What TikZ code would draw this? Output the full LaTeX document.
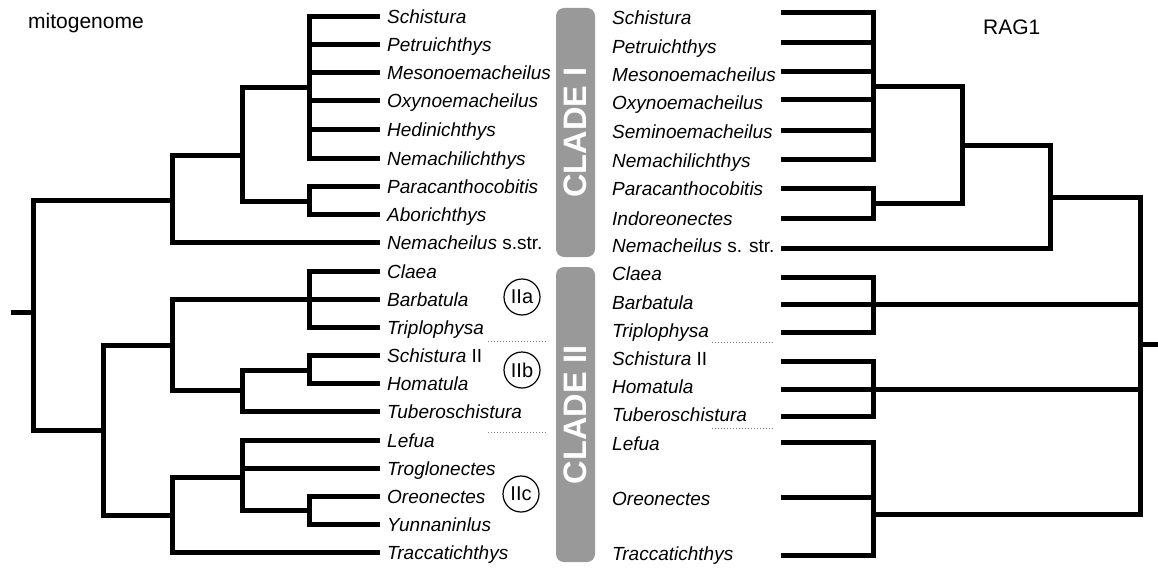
\documentclass[tikz,border=0pt]{standalone}
\usepackage{fontspec}
\setmainfont{Liberation Sans}
\usepackage{tikz}
\usepackage{xcolor}
\definecolor{cladegray}{RGB}{153,153,153}
\tikzset{
  br/.style={line width=5pt},
  taxon/.style={anchor=west, inner xsep=7pt, inner ysep=0pt, text height=14pt, text depth=0pt, font=\fontsize{19}{22}\selectfont},
  cladebar/.style={fill=cladegray, rounded corners=8pt, rotate=90, text=white, minimum height=39pt, inner sep=0pt, font=\fontsize{32.5}{33}\selectfont\bfseries},
  subclade/.style={draw, circle, line width=1.2pt, minimum size=36pt, inner sep=0pt, font=\fontsize{20}{20}\selectfont},
  gapline/.style={dotted, gray, line width=1pt},
  title/.style={anchor=west, inner sep=0pt, font=\fontsize{21}{21}\selectfont}
}

\begin{document}
\begin{tikzpicture}[x=1pt,y=-1pt]
  \useasboundingbox (0,0) rectangle (1158,567);
  \node[title] (mito) at (28,23) {mitogenome}; \node[title] (rag) at (983,27) {RAG1};
  \node[cladebar, minimum width=249pt] (cladeI) at (575.5,132.5) {CLADE I};
  \node[cladebar, minimum width=295pt] (cladeII) at (575.5,414.5) {CLADE II};
  \node[subclade] (IIa) at (522,297) {IIa}; \node[subclade] (IIb) at (522,370) {IIb}; \node[subclade] (IIc) at (521,494) {IIc};
  \coordinate (d1) at (488,341); \coordinate (d2) at (547,341); \coordinate (d3) at (488,432); \coordinate (d4) at (547,432);
  \coordinate (e1) at (712,342); \coordinate (e2) at (773,342); \coordinate (e3) at (712,428); \coordinate (e4) at (773,428);
  \draw[gapline] (d1) -- (d2) (d3) -- (d4) (e1) -- (e2) (e3) -- (e4);

  \node[taxon] (mt1) at (380,17) {\textit{Schistura}}; \node[taxon] (mt2) at (380,45) {\textit{Petruichthys}};
  \node[taxon] (mt3) at (380,73) {\textit{Mesonoemacheilus}}; \node[taxon] (mt4) at (380,101) {\textit{Oxynoemacheilus}};
  \node[taxon] (mt5) at (380,129) {\textit{Hedinichthys}}; \node[taxon] (mt6) at (380,158) {\textit{Nemachilichthys}};
  \node[taxon] (mt7) at (380,186) {\textit{Paracanthocobitis}}; \node[taxon] (mt8) at (380,214) {\textit{Aborichthys}};
  \node[taxon] (mt9) at (380,242) {\textit{Nemacheilus} s.str.}; \node[taxon] (mt10) at (380,271) {\textit{Claea}};
  \node[taxon] (mt11) at (380,299) {\textit{Barbatula}}; \node[taxon] (mt12) at (380,327) {\textit{Triplophysa}};
  \node[taxon] (mt13) at (380,355) {\textit{Schistura} II}; \node[taxon] (mt14) at (380,383) {\textit{Homatula}};
  \node[taxon] (mt15) at (380,411) {\textit{Tuberoschistura}}; \node[taxon] (mt16) at (380,440) {\textit{Lefua}};
  \node[taxon] (mt17) at (380,468) {\textit{Troglonectes}}; \node[taxon] (mt18) at (380,496) {\textit{Oreonectes}};
  \node[taxon] (mt19) at (380,524) {\textit{Yunnaninlus}}; \node[taxon] (mt20) at (380,552) {\textit{Traccatichthys}};

  \node[taxon] (rt1) at (605,18) {\textit{Schistura}}; \node[taxon] (rt2) at (605,47) {\textit{Petruichthys}};
  \node[taxon] (rt3) at (605,75) {\textit{Mesonoemacheilus}}; \node[taxon] (rt4) at (605,103) {\textit{Oxynoemacheilus}};
  \node[taxon] (rt5) at (605,132) {\textit{Seminoemacheilus}}; \node[taxon] (rt6) at (605,160) {\textit{Nemachilichthys}};
  \node[taxon] (rt7) at (605,188) {\textit{Paracanthocobitis}}; \node[taxon] (rt8) at (605,218) {\textit{Indoreonectes}};
  \node[taxon] (rt9) at (605,245) {\textit{Nemacheilus} s. str.}; \node[taxon] (rt10) at (605,273) {\textit{Claea}};
  \node[taxon] (rt11) at (605,302) {\textit{Barbatula}}; \node[taxon] (rt12) at (605,330) {\textit{Triplophysa}};
  \node[taxon] (rt13) at (605,358) {\textit{Schistura} II}; \node[taxon] (rt14) at (605,386) {\textit{Homatula}};
  \node[taxon] (rt15) at (605,414) {\textit{Tuberoschistura}}; \node[taxon] (rt16) at (605,443) {\textit{Lefua}};
  \node[taxon] (rt17) at (605,498) {\textit{Oreonectes}}; \node[taxon] (rt18) at (605,553) {\textit{Traccatichthys}};

  \coordinate (mA) at (309,88); \coordinate (mB) at (309,201); \coordinate (mC) at (242,155); \coordinate (mD) at (172,200);
  \coordinate (mE) at (309,299); \coordinate (mF) at (309,370); \coordinate (mG) at (242,390); \coordinate (mH) at (172,345);
  \coordinate (mI) at (309,510); \coordinate (mJ) at (242,477); \coordinate (mK) at (172,515); \coordinate (mL) at (103,430);
  \coordinate (mroot) at (33,312); \coordinate (mstub) at (11,312);
  \draw[br] (mt1.west) -| (mA) (mt2.west) -| (mA) (mt3.west) -| (mA) (mt4.west) -| (mA) (mt5.west) -| (mA) (mt6.west) -| (mA);
  \draw[br] (mt7.west) -| (mB) (mt8.west) -| (mB) (mA) -| (mC) (mB) -| (mC) (mC) -| (mD) (mt9.west) -| (mD) (mD) -| (mroot);
  \draw[br] (mt10.west) -| (mE) (mt11.west) -| (mE) (mt12.west) -| (mE) (mt13.west) -| (mF) (mt14.west) -| (mF);
  \draw[br] (mF) -| (mG) (mt15.west) -| (mG) (mE) -| (mH) (mG) -| (mH) (mH) -| (mL);
  \draw[br] (mt16.west) -| (mJ) (mt17.west) -| (mJ) (mt18.west) -| (mI) (mt19.west) -| (mI) (mI) -| (mJ);
  \draw[br] (mJ) -| (mK) (mt20.west) -| (mK) (mK) -| (mL) (mL) -| (mroot) (mroot) -- (mstub);

  \coordinate (rx1) at (781,13); \coordinate (rx2) at (781,43); \coordinate (rx3) at (781,72); \coordinate (rx4) at (781,100);
  \coordinate (rx5) at (781,130); \coordinate (rx6) at (781,159); \coordinate (rx7) at (781,188); \coordinate (rx8) at (781,218);
  \coordinate (rx9) at (781,248); \coordinate (rx10) at (781,277); \coordinate (rx11) at (781,304); \coordinate (rx12) at (781,332);
  \coordinate (rx13) at (781,361); \coordinate (rx14) at (781,389); \coordinate (rx15) at (781,416); \coordinate (rx16) at (781,442);
  \coordinate (rx17) at (781,497); \coordinate (rx18) at (781,555);
  \coordinate (rA) at (873,87); \coordinate (rB) at (873,203); \coordinate (rC) at (962,145); \coordinate (rD) at (1050,197);
  \coordinate (rE) at (873,304); \coordinate (rF) at (873,389); \coordinate (rG) at (873,514);
  \coordinate (rroot) at (1140,344); \coordinate (rstub) at (1158,344);
  \draw[br] (rx1) -| (rA) (rx2) -| (rA) (rx3) -| (rA) (rx4) -| (rA) (rx5) -| (rA) (rx6) -| (rA);
  \draw[br] (rx7) -| (rB) (rx8) -| (rB) (rA) -| (rC) (rB) -| (rC) (rC) -| (rD) (rx9) -| (rD) (rD) -| (rroot);
  \draw[br] (rx10) -| (rE) (rx11) -| (rE) (rx12) -| (rE) (rx13) -| (rF) (rx14) -| (rF) (rx15) -| (rF);
  \draw[br] (rx16) -| (rG) (rx17) -| (rG) (rx18) -| (rG) (rE) -| (rroot) (rF) -| (rroot) (rG) -| (rroot) (rroot) -- (rstub);
\end{tikzpicture}
\end{document}
